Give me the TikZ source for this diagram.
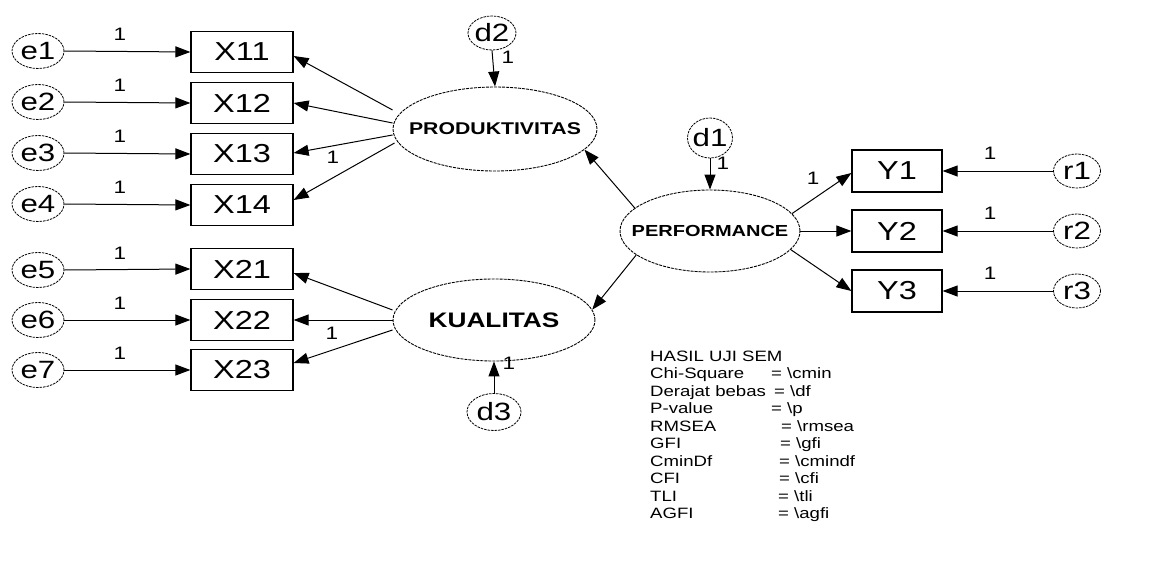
\documentclass[tikz,border=0pt]{standalone}
\usepackage{fontspec}
\usepackage{graphicx}
\setmainfont{Liberation Sans}
\usetikzlibrary{arrows.meta,shapes.geometric,calc}
% wide lettering of the drawing
\newcommand\W[1]{\scalebox{1.25}[1]{#1}}
% wide lettering that does not widen its shape
\newcommand\Z[1]{\makebox[0pt]{\W{#1}}}
% lettering of the fit summary
\newcommand\T[1]{\scalebox{1.24}[1]{#1}}
\begin{document}
\begin{tikzpicture}[x=1pt,y=-1pt,
  lw/.style={line width=1pt},
  arr/.style={lw,-{Triangle[length=15pt,width=11pt]}},
  ind/.style={draw,line width=1.2pt,rectangle,minimum width=102pt,minimum height=41pt,inner sep=0pt,font=\fontsize{26}{28}\selectfont},
  indy/.style={ind,minimum width=90pt,minimum height=42pt},
  res/.style={draw,ellipse,line width=0.8pt,dash pattern=on 2.5pt off 1pt,inner sep=0pt,font=\fontsize{25}{27}\selectfont},
  lat/.style={draw,ellipse,line width=0.9pt,dash pattern=on 3pt off 1pt,inner sep=0pt,font=\bfseries\fontsize{17}{19}\selectfont},
  lab/.style={inner sep=0pt,font=\fontsize{18}{20}\selectfont},
  stat/.style={inner sep=0pt,anchor=base west,font=\fontsize{15}{17}\selectfont}
]
\useasboundingbox (0,0) rectangle (1171,562);

% exogenous indicator boxes and their errors
\foreach \n/\y in {11/52,12/103,13/154,14/205,21/269,22/320,23/370}{
  \node[ind] (x\n) at (242,\y) {\W{X\n}};
}
\foreach \i/\y in {1/51,2/102,3/153,4/204,5/270,6/320,7/370}{
  \node[res,minimum width=52pt,minimum height=35pt] (e\i) at (38,\y) {\Z{e\i}};
  \node[lab] at (120,\y-17) {\W{1}};
}
\foreach \i/\n in {1/11,2/12,3/13,4/14,5/21,6/22,7/23}{
  \draw[arr] (e\i.east) -- (x\n.west);
}

% latent variables
\node[lat,minimum width=204pt,minimum height=84pt] (prod) at (495,129) {\Z{PRODUKTIVITAS}};
\node[lat,minimum width=202pt,minimum height=82pt,font=\bfseries\fontsize{21}{23}\selectfont] (kual) at (494,320) {\Z{KUALITAS}};
\node[lat,minimum width=180pt,minimum height=82pt,font=\bfseries\fontsize{16}{18}\selectfont] (perf) at (710,231) {\Z{PERFORMANCE}};

% disturbances
\node[res,minimum width=48pt,minimum height=34pt] (d2) at (492,33) {\Z{d2}};
\node[res,minimum width=45pt,minimum height=40pt] (d1) at (710,138) {\Z{d1}};
\node[res,minimum width=54pt,minimum height=37pt] (d3) at (494,412) {\Z{d3}};
\draw[arr] (d2.south) -- (prod.north);
\draw[arr] (d1.south) -- (perf.north);
\draw[arr] (d3.north) -- (kual.south);
\node[lab] at (508,57) {\W{1}};
\node[lab] at (723,163) {\W{1}};
\node[lab] at (509,363) {\W{1}};

% loadings of PRODUKTIVITAS
\draw[arr] ($(prod.west)+(0,-19)$) -- ($(x11.east)+(0,4)$);
\draw[arr] ($(prod.west)+(0,-6)$) -- (x12.east);
\draw[arr] ($(prod.west)+(0,6)$) -- ($(x13.east)+(0,-1)$);
\draw[arr] ($(prod.west)+(2,14)$) -- ($(x14.east)+(0,-5)$);
\node[lab] at (333,157) {\W{1}};

% loadings of KUALITAS
\draw[arr] ($(kual.west)+(0,-10)$) -- ($(x21.east)+(0,4)$);
\draw[arr] (kual.west) -- (x22.east);
\draw[arr] ($(kual.west)+(0,10)$) -- ($(x23.east)+(0,-7)$);
\node[lab] at (332,333) {\W{1}};

% structural paths
\draw[arr] (perf.163) -- (prod.-13);
\draw[arr] (perf.198) -- (kual.6);

% endogenous indicators
\foreach \i/\y in {1/171,2/231,3/291}{
  \node[indy] (y\i) at (897,\y) {\W{Y\i}};
  \node[res,minimum width=47pt,minimum height=34pt] (r\i) at (1077,\y) {\Z{r\i}};
  \draw[arr] (r\i.west) -- (y\i.east);
  \node[lab] at (990,\y-18) {\W{1}};
}
\draw[arr] (perf.12) -- ($(y1.west)+(0,2)$);
\draw[arr] (perf.east) -- (y2.west);
\draw[arr] (perf.-13) -- (y3.west);
\node[lab] at (813,178) {\W{1}};

% fit summary
\node[stat] (hasil) at (650,361) {\T{HASIL UJI SEM}};
\foreach \k/\v/\x/\y in {Chi-Square/cmin/771/378.5,Derajat bebas/df/774/396,P-value/p/771/413.5,RMSEA/rmsea/781/431,GFI/gfi/780/448.5,CminDf/cmindf/779/466,CFI/cfi/779/483.5,TLI/tli/778/501,AGFI/agfi/778/518.5}{
  \node[stat] at (650,\y) {\T{\k}};
  \node[stat] at (\x,\y) {\T{= \textbackslash\v}};
}
\end{tikzpicture}
\end{document}
